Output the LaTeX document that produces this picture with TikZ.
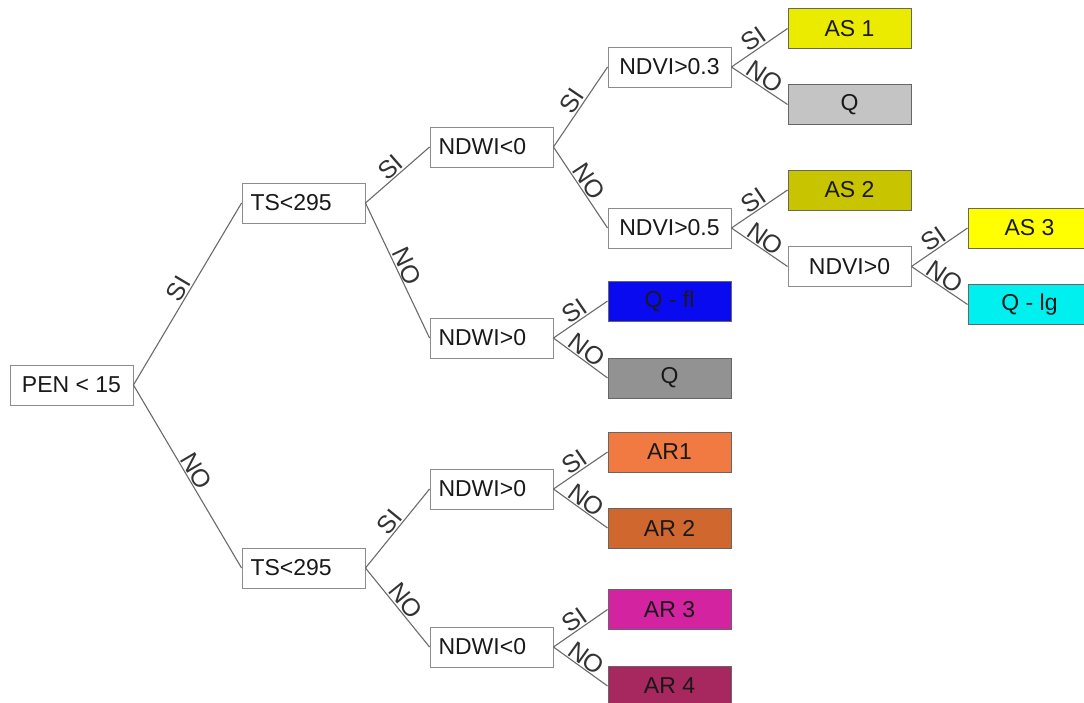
\documentclass[tikz,border=0pt]{standalone}
\usepackage{fontspec}
\setmainfont{Liberation Sans}
\begin{document}
\begin{tikzpicture}[x=1pt,y=-1pt,
  box/.style={draw=black!45, line width=0.9pt, minimum width=123pt, minimum height=40pt, inner sep=0pt, font=\fontsize{23}{25}\selectfont, text=black!90},
  lbox/.style={box, text width=106pt, align=left},
  leaf/.style={box, draw=black!60},
  conn/.style={draw=black!58, line width=1.1pt},
  lab/.style={sloped, above, inner sep=1pt, font=\fontsize{25}{27}\selectfont, text=black!80}]
\definecolor{cAS1}{HTML}{EBEB00}
\definecolor{cAS2}{HTML}{C8C400}
\definecolor{cAS3}{HTML}{FFFF00}
\definecolor{cQ1}{HTML}{C4C4C4}
\definecolor{cQ2}{HTML}{929292}
\definecolor{cQfl}{HTML}{0A0AF0}
\definecolor{cQlg}{HTML}{00F0F0}
\definecolor{cAR1}{HTML}{F07A42}
\definecolor{cAR2}{HTML}{D0672F}
\definecolor{cAR3}{HTML}{D323A0}
\definecolor{cAR4}{HTML}{A6285E}
\useasboundingbox (0,0) rectangle (1084,702);
\fill[white] (0,0) rectangle (1084,702);
% decision nodes
\node[box] (pen) at (71.5,385) {PEN < 15};
\node[lbox] (ts1) at (303.5,203) {TS<295};
\node[lbox] (ts2) at (303.5,568) {TS<295};
\node[lbox] (nw1) at (491.5,147) {NDWI<0};
\node[lbox] (nw2) at (491.5,338) {NDWI>0};
\node[lbox] (nw3) at (491.5,489) {NDWI>0};
\node[lbox] (nw4) at (491.5,647) {NDWI<0};
\node[box] (nv1) at (669.5,67) {NDVI>0.3};
\node[box] (nv2) at (669.5,228) {NDVI>0.5};
\node[box] (nv3) at (849.5,266.5) {NDVI>0};
% leaves
\node[leaf, fill=cAS1] (as1) at (849.5,28.5) {AS 1};
\node[leaf, fill=cQ1] (q1) at (849.5,104.5) {Q};
\node[leaf, fill=cAS2] (as2) at (849.5,190) {AS 2};
\node[leaf, fill=cAS3] (as3) at (1029.5,228) {AS 3};
\node[leaf, fill=cQlg] (qlg) at (1029.5,304.5) {Q - lg};
\node[leaf, fill=cQfl] (qfl) at (669.5,301) {Q - fl};
\node[leaf, fill=cQ2] (q2) at (669.5,378) {Q};
\node[leaf, fill=cAR1] (ar1) at (669.5,452) {AR1};
\node[leaf, fill=cAR2] (ar2) at (669.5,528) {AR 2};
\node[leaf, fill=cAR3] (ar3) at (669.5,609.5) {AR 3};
\node[leaf, fill=cAR4] (ar4) at (669.5,686) {AR 4};
% connectors
\draw[conn] (pen.east) -- node[lab]{SI} (ts1.west);
\draw[conn] (pen.east) -- node[lab]{NO} (ts2.west);
\draw[conn] (ts1.east) -- node[lab]{SI} (nw1.west);
\draw[conn] (ts1.east) -- node[lab]{NO} (nw2.west);
\draw[conn] (ts2.east) -- node[lab]{SI} (nw3.west);
\draw[conn] (ts2.east) -- node[lab]{NO} (nw4.west);
\draw[conn] (nw1.east) -- node[lab]{SI} (nv1.west);
\draw[conn] (nw1.east) -- node[lab]{NO} (nv2.west);
\draw[conn] (nv1.east) -- node[lab]{SI} (as1.west);
\draw[conn] (nv1.east) -- node[lab]{NO} (q1.west);
\draw[conn] (nv2.east) -- node[lab]{SI} (as2.west);
\draw[conn] (nv2.east) -- node[lab]{NO} (nv3.west);
\draw[conn] (nv3.east) -- node[lab]{SI} (as3.west);
\draw[conn] (nv3.east) -- node[lab]{NO} (qlg.west);
\draw[conn] (nw2.east) -- node[lab]{SI} (qfl.west);
\draw[conn] (nw2.east) -- node[lab]{NO} (q2.west);
\draw[conn] (nw3.east) -- node[lab]{SI} (ar1.west);
\draw[conn] (nw3.east) -- node[lab]{NO} (ar2.west);
\draw[conn] (nw4.east) -- node[lab]{SI} (ar3.west);
\draw[conn] (nw4.east) -- node[lab]{NO} (ar4.west);
\end{tikzpicture}
\end{document}
